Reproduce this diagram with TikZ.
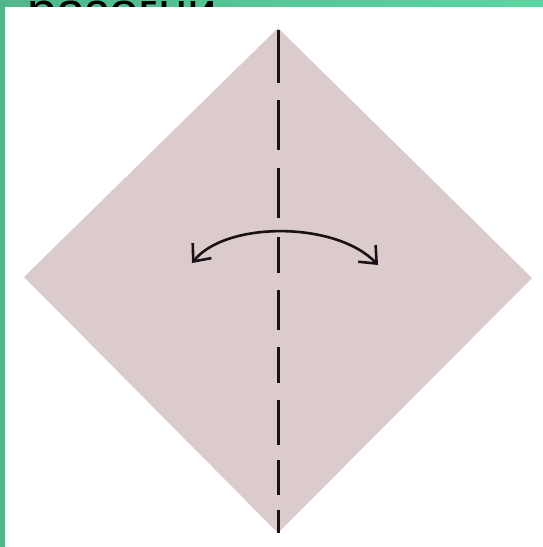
\documentclass[tikz,border=0pt]{standalone}
\usepackage{fontspec}
\setmainfont{Liberation Sans}
\usetikzlibrary{arrows.meta}
\definecolor{frame}{RGB}{82,182,138}
\definecolor{framelight}{RGB}{90,215,160}
\definecolor{paper}{RGB}{219,203,205}
\definecolor{ink}{RGB}{25,18,20}
\tikzset{
  foldline/.style={draw=ink, line width=3pt},
  barb/.tip={Straight Barb[length=14pt,width=24pt,line width=2.6pt]},
  turnarrow/.style={draw=ink, line width=2.6pt, barb-barb}
}
\begin{document}
\begin{tikzpicture}[x=1pt,y=-1pt]
\useasboundingbox (0,0) rectangle (543,547);
% green frame
\shade[left color=frame, right color=framelight] (0,0) rectangle (543,547);
\fill[frame] (0,0) rectangle (6,547);
% clipped title text
\begin{scope}
\clip (0,0) rectangle (543,7);
\node[anchor=base west, inner sep=0pt, font=\fontsize{53}{53}\selectfont, text=black] (title) at (27,29) {разогни};
\end{scope}
% white panel
\fill[white] (5,7) rectangle (543,547);
% paper square
\fill[paper] (278,28) -- (532,278) -- (278,533) -- (24,277) -- cycle;
% dashed fold line
\foreach \a/\b in {30/83,100/150,168/218,237/273,290/330,347/383,400/445,460/495,510/533}
  \draw[foldline] (278,\a) -- (278,\b);
% two-way arrow
\coordinate (la) at (192,263);
\coordinate (ra) at (378,265);
\draw[turnarrow] (la) .. controls (226,221) and (336,221) .. (ra);
\end{tikzpicture}
\end{document}
